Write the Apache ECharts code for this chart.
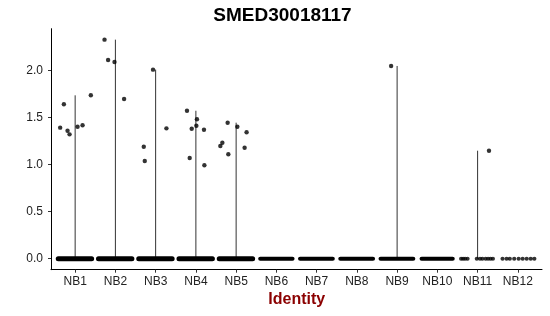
<!DOCTYPE html>
<html>
<head>
<meta charset="utf-8">
<script src="https://cdn.jsdelivr.net/npm/echarts@6/dist/echarts.min.js"></script>
<style>html,body{margin:0;padding:0;background:#fff}#c{width:550px;height:316px}</style>
</head>
<body>
<div id="c"></div>
<script>
// ---- data ----
const categories = ['NB1','NB2','NB3','NB4','NB5','NB6','NB7','NB8','NB9','NB10','NB11','NB12'];
const yTicks = [0, 0.5, 1.0, 1.5, 2.0];
// non-zero expressing cells: group index, jitter offset, expression value
const exprGroup  = [0,0,0,0,0,0,0, 1,1,1,1, 2,2,2,2, 3,3,3,3,3,3,3, 4,4,4,4,4,4,4, 8, 10];
const exprJitter = [-0.372,-0.28,-0.189,-0.139,0.06,0.184,0.39,
                    -0.27,-0.181,-0.022,0.216,
                    -0.295,-0.27,-0.065,0.268,
                    -0.221,0.027,-0.104,0.012,0.201,-0.154,0.211,
                    -0.211,0.03,0.26,-0.392,-0.342,-0.194,0.211,
                    -0.149,
                    0.283];
const exprValue  = [1.394,1.643,1.362,1.323,1.404,1.419,1.738,
                    2.33,2.114,2.093,1.699,
                    1.191,1.039,2.011,1.387,
                    1.574,1.483,1.383,1.415,1.372,1.071,0.994,
                    1.447,1.404,1.345,1.199,1.234,1.111,1.181,
                    2.05,
                    1.149];
// dense zero-valued cells: jitter extent per group (NB1..NB10)
const zeroLo = [-0.42,-0.42,-0.42,-0.42,-0.42,-0.40,-0.41,-0.41,-0.41,-0.39];
const zeroHi = [ 0.41, 0.41, 0.41, 0.41, 0.41, 0.40, 0.40, 0.40, 0.40, 0.38];
// sparse zero-valued cells (NB11, NB12)
const sparseGroup  = [10,10,10,10,10,10,10,10,10,10,10, 11,11,11,11,11,11,11,11,11];
const sparseJitter = [-0.41,-0.36,-0.31,-0.25,-0.02,0.06,0.12,0.2,0.26,0.32,0.38,
                      -0.38,-0.28,-0.2,-0.09,0.02,0.12,0.22,0.32,0.41];

// ---- chart ----
const chart = echarts.init(document.getElementById('c'), null, {renderer:'canvas'});
const FONT = "'Liberation Sans', Arial, sans-serif";
const series = [];

// violin outlines (degenerate, drawn as line from 0 to group max)
categories.forEach((c, i) => {
  const vals = exprValue.filter((v, k) => exprGroup[k] === i);
  if (!vals.length) return;
  const mx = Math.max(...vals);
  series.push({type:'line', data:[[i,0],[i,mx]], symbol:'none', silent:true, z:2,
    lineStyle:{color:'#333', width:1}});
});
// zero bands
zeroLo.forEach((lo, i) => {
  series.push({type:'line', data:[[i+lo,0],[i+zeroHi[i],0]], symbol:'none', silent:true, z:3,
    lineStyle:{color:'#000', width: i < 5 ? 5 : 4.2, cap:'round'}});
});
// sparse zero points
series.push({type:'scatter', symbolSize:4.2, z:4, silent:true, itemStyle:{color:'#000'},
  data: sparseGroup.map((g, k) => [g + sparseJitter[k], 0])});
// expressing cells
series.push({type:'scatter', symbolSize:4.4, z:4, silent:true, itemStyle:{color:'#000'},
  data: exprGroup.map((g, k) => [g + exprJitter[k], exprValue[k]])});

chart.setOption({
  animation:false,
  backgroundColor:'#fff',
  grid:{left:51, right:8, top:28.7, bottom:46.3, containLabel:false},
  xAxis:{type:'value', min:-0.6, max:11.6,
    axisLine:{show:true, onZero:false, lineStyle:{color:'#000', width:1}},
    axisTick:{show:true, length:3, customValues:categories.map((c,i)=>i), lineStyle:{color:'#333'}},
    axisLabel:{customValues:categories.map((c,i)=>i), formatter:v=>categories[Math.round(v)],
      margin:6, color:'#222', fontSize:12, fontFamily:FONT},
    splitLine:{show:false}},
  yAxis:{type:'value', min:-0.1165, max:2.4465,
    axisLine:{show:true, onZero:false, lineStyle:{color:'#000', width:1}},
    axisTick:{show:true, length:3, customValues:yTicks, lineStyle:{color:'#333'}},
    axisLabel:{customValues:yTicks, formatter:v=>v.toFixed(1), margin:8,
      color:'#222', fontSize:12, fontFamily:FONT},
    splitLine:{show:false}},
  graphic:[
    {type:'text', x:282.5, y:15.5, silent:true,
      style:{text:'SMED30018117', font:"bold 19px "+FONT, fill:'#000', align:'center', verticalAlign:'middle'}},
    {type:'text', x:296.8, y:299.5, silent:true,
      style:{text:'Identity', font:"bold 16px "+FONT, fill:'#8B0000', align:'center', verticalAlign:'middle'}}
  ],
  series: series
});
</script>
</body>
</html>
